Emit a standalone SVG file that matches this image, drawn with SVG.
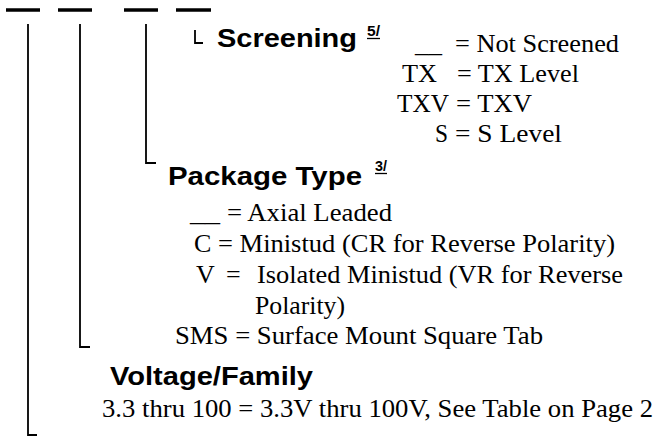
<svg xmlns="http://www.w3.org/2000/svg" width="658" height="438" viewBox="0 0 658 438">
<style>
.h{font-family:"Liberation Sans",Arial,sans-serif;font-weight:bold;font-size:25px;fill:#000}
.sup{font-family:"Liberation Sans",Arial,sans-serif;font-weight:bold;font-size:15px;fill:#000}
.t{font-family:"Liberation Serif","Times New Roman","DejaVu Serif",serif;font-size:26px;fill:#000}
.dash{stroke:#000;stroke-width:3.5;fill:none}
.conn{stroke:#000;stroke-width:1.8;fill:none}
.ul{stroke:#000;stroke-width:1.3}
</style>
<rect width="658" height="438" fill="#fff"/>
<g id="code-dashes">
<line class="dash" x1="6" y1="10" x2="40" y2="10"/>
<line class="dash" x1="58" y1="10" x2="92" y2="10"/>
<line class="dash" x1="124" y1="10" x2="158" y2="10"/>
<line class="dash" x1="176" y1="10" x2="211" y2="10"/>
</g>
<g id="connectors">
<path class="conn" d="M28,24 V435 H37"/>
<path class="conn" d="M80,24 V347 H90"/>
<path class="conn" d="M146,24 V163 H156"/>
<path class="conn" d="M195,30 V43 H203"/>
</g>
<g id="screening">
<text class="h" x="217" y="47" textLength="140" lengthAdjust="spacingAndGlyphs">Screening</text>
<text class="sup" x="367" y="36" textLength="13" lengthAdjust="spacingAndGlyphs">5/</text>
<line class="ul" x1="367" y1="38.5" x2="380" y2="38.5"/>
<text class="t" x="415" y="52" textLength="27" lengthAdjust="spacingAndGlyphs">__</text>
<text class="t" x="455" y="52" textLength="164" lengthAdjust="spacingAndGlyphs">= Not Screened</text>
<text class="t" x="402" y="82" textLength="35" lengthAdjust="spacingAndGlyphs">TX</text>
<text class="t" x="457" y="82" textLength="122" lengthAdjust="spacingAndGlyphs">= TX Level</text>
<text class="t" x="397" y="112" textLength="52" lengthAdjust="spacingAndGlyphs">TXV</text>
<text class="t" x="456" y="112" textLength="76" lengthAdjust="spacingAndGlyphs">= TXV</text>
<text class="t" x="435" y="142" textLength="13" lengthAdjust="spacingAndGlyphs">S</text>
<text class="t" x="455" y="142" textLength="107" lengthAdjust="spacingAndGlyphs">= S Level</text>
</g>
<g id="package-type">
<text class="h" x="168" y="185" textLength="194" lengthAdjust="spacingAndGlyphs">Package Type</text>
<text class="sup" x="375" y="171" textLength="12" lengthAdjust="spacingAndGlyphs">3/</text>
<line class="ul" x1="375" y1="173.5" x2="387" y2="173.5"/>
<text class="t" x="190" y="221" textLength="30" lengthAdjust="spacingAndGlyphs">__</text>
<text class="t" x="227" y="221" textLength="165" lengthAdjust="spacingAndGlyphs">= Axial Leaded</text>
<text class="t" x="194" y="252">C</text>
<text class="t" x="218" y="252" textLength="397" lengthAdjust="spacingAndGlyphs">= Ministud (CR for Reverse Polarity)</text>
<text class="t" x="196" y="283">V</text>
<text class="t" x="226" y="283">=</text>
<text class="t" x="257" y="283" textLength="366" lengthAdjust="spacingAndGlyphs">Isolated Ministud (VR for Reverse</text>
<text class="t" x="255" y="314" textLength="90" lengthAdjust="spacingAndGlyphs">Polarity)</text>
<text class="t" x="175" y="344" textLength="368" lengthAdjust="spacingAndGlyphs">SMS = Surface Mount Square Tab</text>
</g>
<g id="voltage-family">
<text class="h" x="110" y="385" textLength="203" lengthAdjust="spacingAndGlyphs">Voltage/Family</text>
<text class="t" x="102" y="417" textLength="551" lengthAdjust="spacingAndGlyphs">3.3 thru 100 = 3.3V thru 100V, See Table on Page 2</text>
</g>
</svg>
